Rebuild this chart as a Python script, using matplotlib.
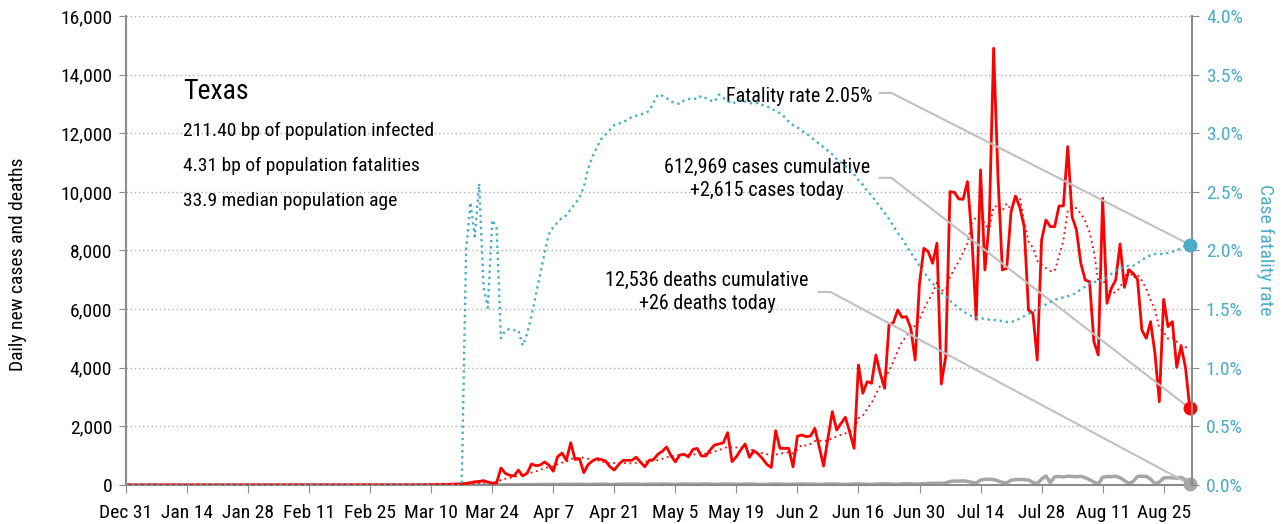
import pandas as pd
import matplotlib
matplotlib.use("Agg")
import matplotlib.pyplot as plt
import matplotlib.dates as mdates
from matplotlib import font_manager

# daily new cases, Mar 4 .. Aug 31 (zero before)
cases = [1, 0, 2, 3, 5, 8, 10,
         12, 15, 20, 25, 30, 35, 40,
         55, 80, 110, 120, 150, 100, 60, 70,
         580, 400, 330, 310, 510, 310, 400, 720, 660, 680,
         785, 680, 470, 966, 1090, 840, 1443, 870, 900, 420,
         700, 820, 900, 870, 820, 620, 510, 700, 840, 840,
         840, 950, 780, 620, 840, 870, 1050, 1150, 1296, 1000,
         790, 1020, 1050, 960, 1210, 1250, 990, 990, 1200, 1365,
         1400, 1440, 1785, 796, 966, 1200, 1398, 943, 1172, 1058,
         900, 700, 600, 1853, 1250, 1250, 1250, 620, 1670, 1706,
         1650, 1670, 1933, 1300, 648, 1600, 2503, 1876, 2100, 2310,
         1800, 1250, 4094, 3127, 3526, 3469, 4435, 3800, 3298, 5459,
         5539, 5971, 5721, 5744, 5346, 4265, 6881, 8076, 7962, 7564,
         8246, 3446, 4379, 10008, 9986, 9758, 9747, 10350, 8473, 5653,
         10748, 7336, 8985, 14900, 10520, 7336, 7390, 9326, 9860, 9475,
         8813, 5970, 5857, 4265, 8360, 9040, 8813, 8813, 9520, 9520,
         11545, 9156, 8700, 7563, 6994, 6937, 4890, 4435, 9780, 6198,
         6710, 6994, 8223, 6744, 7336, 7222, 7017, 5288, 5004, 5573,
         4492, 2843, 6335, 5402, 5573, 4014, 4742, 4014, 2615]

# daily deaths, Mar 17 .. Aug 31
deaths = [1, 0, 1, 2, 1, 3, 2, 4, 5, 3, 6, 8, 7, 10,
          12, 15, 14, 18, 20, 17, 22, 25, 19, 24, 28, 21, 26, 30, 18,
          20, 25, 27, 24, 31, 22, 19, 26, 30, 28, 25, 33, 20, 23, 29,
          31, 27, 35, 29, 22, 25, 33, 38, 30, 27, 24, 32, 36, 29, 21, 26,
          34, 30, 28, 25, 23, 31, 35, 27, 20, 18, 22, 30, 33, 28, 25,
          21, 24, 32, 35, 28, 30, 26, 19, 27, 33, 36, 30, 25, 22, 29,
          34, 38, 28, 24, 20, 31, 35, 40, 33, 27, 25, 38, 45, 44, 30,
          40, 48, 55, 60, 66, 58, 70,
          120, 135, 130, 140, 125, 90, 70,
          170, 190, 200, 185, 140, 90, 70,
          160, 185, 190, 180, 170, 90, 50,
          200, 310, 80, 280, 290, 275, 300,
          290, 285, 295, 250, 180, 100, 30,
          260, 290, 285, 300, 250, 150, 50,
          120, 290, 300, 295, 200, 50, 100,
          240, 250, 245, 230, 260, 180, 26]

# case fatality rate in %, Mar 18 .. Aug 31
cfr = [2.00, 2.41, 2.12, 2.57, 1.69, 1.51, 2.26, 2.20, 1.25,
       1.32, 1.33, 1.32, 1.32, 1.19, 1.29, 1.44, 1.62, 1.80, 1.98,
       2.14, 2.20, 2.24, 2.28, 2.30, 2.35, 2.40, 2.45, 2.54, 2.70,
       2.80, 2.88, 2.95, 2.99, 3.03, 3.07, 3.08, 3.10, 3.11, 3.14,
       3.15, 3.16, 3.17, 3.19, 3.26, 3.33, 3.32, 3.30, 3.27, 3.26,
       3.25, 3.28, 3.29, 3.30, 3.29, 3.32, 3.30, 3.28, 3.27, 3.33,
       3.30, 3.28, 3.25, 3.27, 3.29, 3.27, 3.26, 3.25, 3.26, 3.24,
       3.23, 3.21, 3.19, 3.17, 3.14, 3.10, 3.07, 3.05, 3.02, 3.00,
       2.97, 2.94, 2.91, 2.88, 2.85, 2.82, 2.78, 2.75, 2.72, 2.69,
       2.65, 2.60, 2.56, 2.51, 2.47, 2.42, 2.37, 2.32, 2.27, 2.21,
       2.15, 2.10, 2.04, 1.98, 1.93, 1.87, 1.82, 1.76, 1.72, 1.68,
       1.64, 1.61, 1.57, 1.54, 1.51, 1.48, 1.46, 1.44, 1.43, 1.42,
       1.42, 1.41, 1.41, 1.40, 1.40, 1.39, 1.39, 1.40, 1.42, 1.44,
       1.46, 1.48, 1.50, 1.52, 1.54, 1.56, 1.58, 1.59, 1.60, 1.61,
       1.62, 1.64, 1.67, 1.69, 1.72, 1.73, 1.74, 1.75, 1.77, 1.80,
       1.83, 1.85, 1.86, 1.87, 1.87, 1.89, 1.92, 1.94, 1.96, 1.97,
       1.97, 1.97, 1.98, 1.99, 2.00, 2.02, 2.04, 2.05]

tick_labels = ["Dec 31", "Jan 14", "Jan 28", "Feb 11", "Feb 25", "Mar 10",
               "Mar 24", "Apr 7", "Apr 21", "May 5", "May 19", "Jun 2",
               "Jun 16", "Jun 30", "Jul 14", "Jul 28", "Aug 11", "Aug 25"]

state = "Texas"
stats = ["211.40 bp of population infected",
         "4.31 bp of population fatalities",
         "33.9 median population age"]
fatality_note = "Fatality rate 2.05%"
cases_note = "612,969 cases cumulative\n+2,615 cases today"
deaths_note = "12,536 deaths cumulative\n+26 deaths today"

RED = "#ff0000"
BLUE = "#4bacc6"
GREY = "#a6a6a6"
AXIS = "#8c8c8c"

# condensed face if available
names = {f.name for f in font_manager.fontManager.ttflist}
for fam in ["Roboto Condensed", "Liberation Sans Narrow", "DejaVu Sans"]:
    if fam in names:
        break
plt.rcParams["font.family"] = fam

# put the series on one daily calendar, anchored at the last day
days = pd.date_range("2019-12-31", "2020-08-31", freq="D")
def daily(vals):
    s = pd.Series(vals, index=pd.date_range(end=days[-1], periods=len(vals)))
    return s.reindex(days, fill_value=0).astype(float)

s_cases = daily(cases)
s_deaths = daily(deaths)
s_cfr = daily(cfr) / 100
s_avg = s_cases.rolling(7, min_periods=1).mean()

fig = plt.figure(figsize=(12.83, 5.24), dpi=100)
ax = fig.add_axes([126 / 1283, 1 - 485 / 524, 1066 / 1283, 469 / 524])
ax2 = ax.twinx()

ax.plot(days, s_cases, color=RED, lw=2, zorder=3)
ax.plot(days, s_avg, color=RED, lw=1.3, ls=(0, (1, 2)), zorder=3)
ax.plot(days, s_deaths, color=GREY, lw=2.5, zorder=2)
ax2.plot(days, s_cfr, color=BLUE, lw=1.7, ls=(0, (1, 1.6)))

x0 = mdates.date2num(days[0])
x1 = mdates.date2num(days[-1]) + 0.5
ax.set_xlim(x0, x1)
ax.set_ylim(0, 16000)
ax2.set_ylim(0, 0.04)

ticks = pd.date_range(days[0], periods=len(tick_labels), freq="14D")
ax.set_xticks(ticks)
ax.set_xticklabels(tick_labels)
ax.set_yticks(range(0, 16001, 2000))
ax.yaxis.set_major_formatter(matplotlib.ticker.FuncFormatter(lambda v, p: f"{int(v):,}"))
ax2.set_yticks([i * 0.005 for i in range(9)])
ax2.yaxis.set_major_formatter(matplotlib.ticker.FuncFormatter(lambda v, p: f"{v * 100:.1f}%"))

ax.yaxis.grid(True, ls=(0, (1, 2)), color="#b0b0b0", lw=1)
ax.set_axisbelow(True)

for sp in ["top", "right"]:
    ax.spines[sp].set_visible(False)
for sp in ["top", "left", "bottom"]:
    ax2.spines[sp].set_visible(False)
for sp in [ax.spines["left"], ax.spines["bottom"], ax2.spines["right"]]:
    sp.set_color(AXIS)
    sp.set_linewidth(1.5)

ax.tick_params(axis="x", length=6, color=AXIS, labelsize=14, pad=8)
ax.tick_params(axis="y", length=5, color=AXIS, labelsize=14, pad=5)
ax2.tick_params(axis="y", length=5, color=AXIS, labelsize=14, pad=5, labelcolor=BLUE)

fig.text(18 / 1283, 1 - 264 / 524, "Daily new cases and deaths", rotation=90,
         ha="center", va="center", fontsize=14)
fig.text(1265 / 1283, 1 - 250 / 524, "Case fatality rate", rotation=270,
         ha="center", va="center", fontsize=14, color=BLUE)

ax.text(0.0535, 0.838, state, transform=ax.transAxes, fontsize=20, va="center")
for i, line in enumerate(stats):
    ax.text(0.0535, 0.755 - i * 0.0746, line, transform=ax.transAxes,
            fontsize=14, va="center")

# end markers
last = days[-1]
ax.plot([last], [s_cases.iloc[-1]], "o", color=RED, ms=9, clip_on=False, zorder=6)
ax.plot([last], [s_deaths.iloc[-1]], "o", color=GREY, ms=9, clip_on=False, zorder=6)
ax2.plot([last], [s_cfr.iloc[-1]], "o", color=BLUE, ms=9, clip_on=False, zorder=6)

# leader lines from the notes to the end markers
ex = (mdates.date2num(last) - x0) / (x1 - x0)
leaders = [(0.707, 0.836, s_cfr.iloc[-1] / 0.04),
           (0.707, 0.655, s_cases.iloc[-1] / 16000),
           (0.650, 0.4115, s_deaths.iloc[-1] / 16000)]
for sx, sy, ey in leaders:
    ax.plot([sx, sx + 0.011, ex], [sy, sy, ey], transform=ax.transAxes,
            color="#c0c0c0", lw=1.5, clip_on=False, zorder=4)

ax.text(0.700, 0.829, fatality_note, transform=ax.transAxes, fontsize=14.5,
        ha="right", va="center")
ax.text(0.601, 0.652, cases_note, transform=ax.transAxes, fontsize=14.5,
        ha="center", va="center", linespacing=1.3)
ax.text(0.545, 0.4115, deaths_note, transform=ax.transAxes, fontsize=14.5,
        ha="center", va="center", linespacing=1.3)

fig.savefig("out.png", dpi=100)
